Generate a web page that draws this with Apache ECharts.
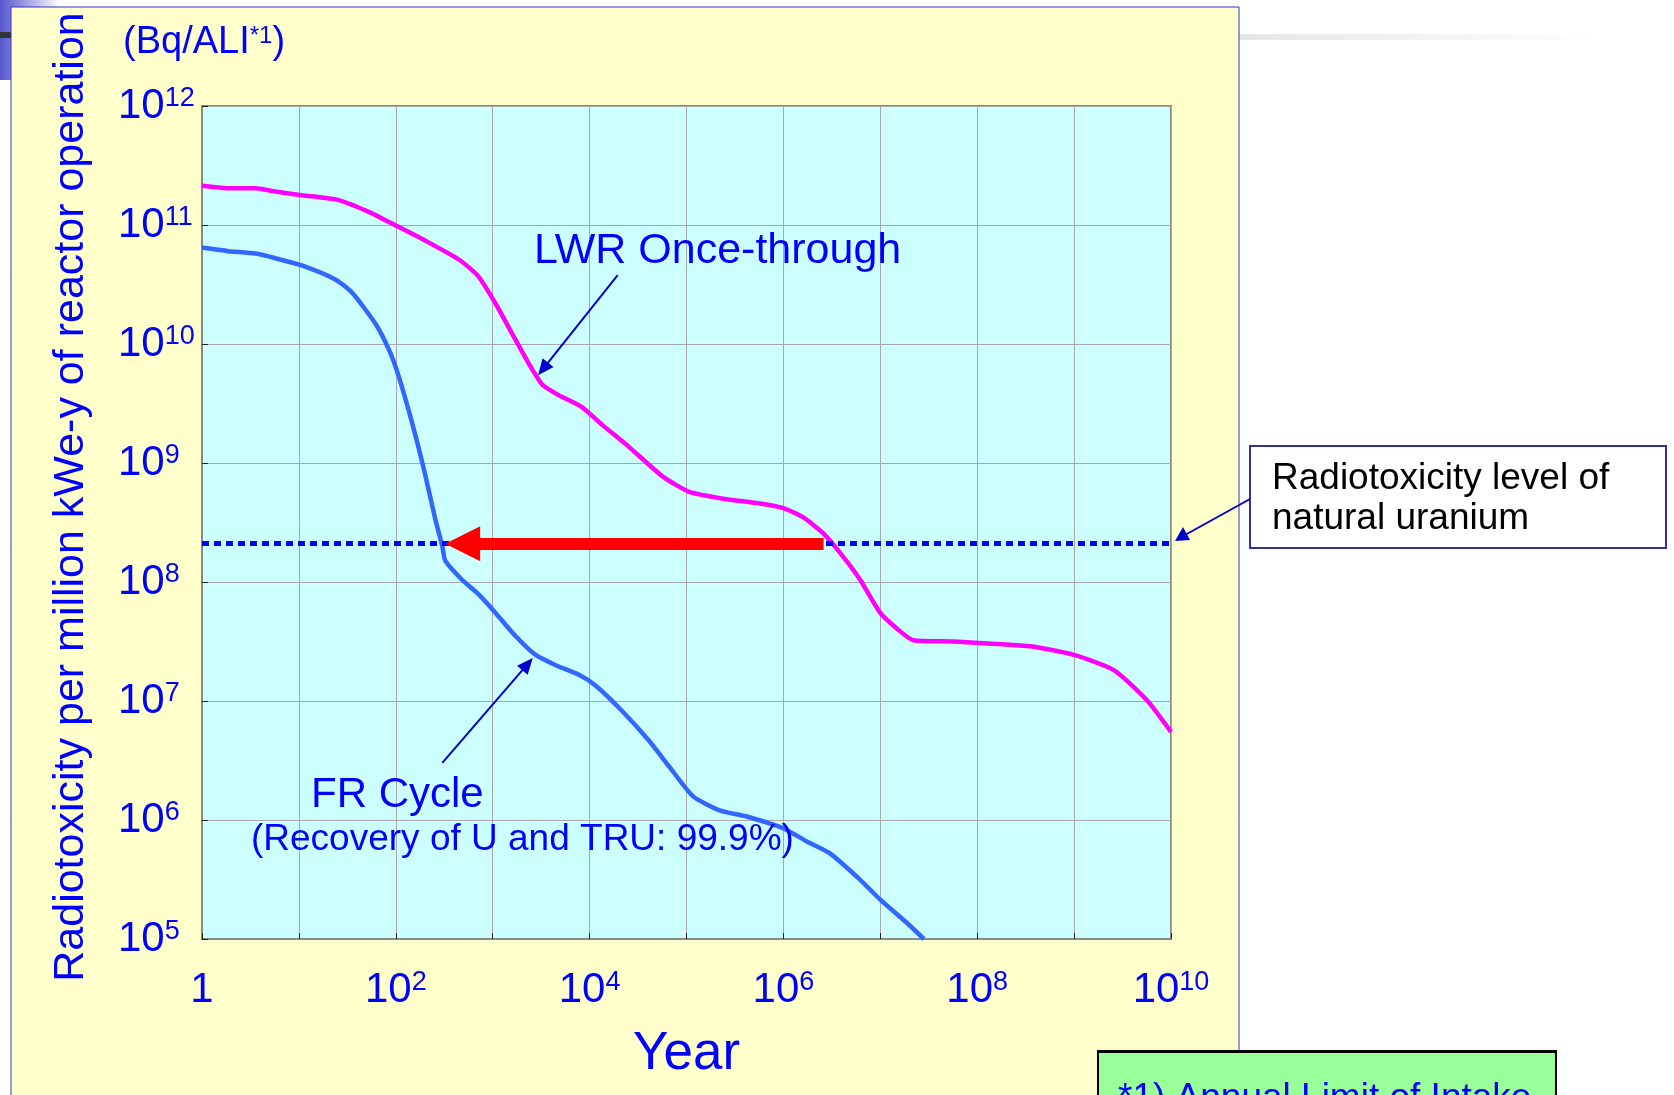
<!DOCTYPE html>
<html>
<head>
<meta charset="utf-8">
<title>Radiotoxicity of spent fuel</title>
<script src="https://cdn.jsdelivr.net/npm/echarts@6/dist/echarts.min.js"></script>
<style>
    html, body { margin: 0; padding: 0; background: #fff; }
    #chart { width: 1674px; height: 1095px; }
</style>
</head>
<body>
<div id="chart"></div>
<script>
// LWR once-through (years after discharge, Bq/ALI)
const lwrYears = [1, 1.86, 3.55, 5.75, 10.7, 25.7, 52.5, 97.7, 200, 447, 708, 1070, 1580, 2340, 3240,
    4790, 8320, 1.35e4, 2.51e4, 5.62e4, 1.05e5, 2.4e5, 5.75e5, 1e6, 1.62e6, 2.57e6, 4.17e6, 6.17e6,
    1e7, 1.48e7, 2.19e7, 5.75e7, 1.58e8, 3.55e8, 9.77e8, 2.57e9, 5.62e9, 1e10];
const lwrValues = [2.14e11, 2.04e11, 2.04e11, 1.91e11, 1.78e11, 1.62e11, 1.29e11, 1.0e11, 7.41e10, 5.13e10,
    3.72e10, 2.19e10, 1.23e10, 6.92e9, 4.57e9, 3.72e9, 2.95e9, 2.09e9, 1.38e9, 7.76e8, 5.75e8, 5.01e8,
    4.57e8, 4.17e8, 3.47e8, 2.57e8, 1.62e8, 1.05e8, 5.5e7, 4.07e7, 3.24e7, 3.16e7, 3.02e7, 2.88e7,
    2.45e7, 1.82e7, 1.02e7, 5.5e6];

// FR cycle, recovery of U and TRU 99.9%
const frYears = [1, 1.86, 3.55, 5.75, 10.7, 24, 35.5, 61.7, 85.1, 107, 148, 200, 257, 302, 324, 479, 708,
    1070, 1700, 2750, 4470, 7760, 1.15e4, 2.14e4, 4.07e4, 6.61e4, 1.17e5, 2.24e5, 4.17e5, 1e6, 1.74e6,
    3.02e6, 6.17e6, 1e7, 1.91e7, 2.82e7];
const frValues = [6.46e10, 6.03e10, 5.75e10, 5.25e10, 4.57e10, 3.47e10, 2.69e10, 1.48e10, 8.91e9, 5.37e9,
    2.14e9, 8.13e8, 3.31e8, 2.0e8, 1.51e8, 1.05e8, 7.94e7, 5.5e7, 3.55e7, 2.45e7, 2.0e7, 1.66e7, 1.35e7,
    8.32e6, 4.68e6, 2.82e6, 1.58e6, 1.2e6, 1.07e6, 8.51e5, 6.61e5, 5.25e5, 3.16e5, 2.14e5, 1.35e5, 1e5];

// radiotoxicity of natural uranium and the reduction arrow (LWR crossing -> FR crossing)
const natUraniumLevel = 2.1e8;
const reductionFromYear = 2.6e6;
const reductionHeadYear = 490;

// pointers from the curve labels [year, value] start -> head
const lwrPointer = [[1.95e4, 3.8e10], [3.31e3, 6.17e9]];
const frPointer = [[302, 3.02e6], [2290, 2.04e7]];

// tick labels (decade exponents)
const xLabelDecades = [0, 2, 4, 6, 8, 10];
const yLabelDecades = [5, 6, 7, 8, 9, 10, 11, 12];

const FONT = "'Liberation Sans', Arial, sans-serif";
const BLUE = '#0000FF';

let chartDom = document.getElementById('chart'),
    myChart = echarts.init(chartDom),
    option;

function decadeLabel(v, shown) {
    let e = Math.round(Math.log10(v));
    if (shown.indexOf(e) < 0) return '';
    if (e === 0) return '{b|1}';
    return '{b|10}{s|' + e + '}';
}

const richDigits = {
    b: { fontSize: 42, lineHeight: 42, color: BLUE, fontFamily: FONT },
    s: { fontSize: 27, lineHeight: 34, verticalAlign: 'top', color: BLUE, fontFamily: FONT }
};

option = {
    animation: false,
    backgroundColor: '#ffffff',
    grid: {
        left: 202, top: 106, width: 969, height: 833,
        show: true,
        backgroundColor: '#CCFFFF',
        borderColor: '#888888',
        borderWidth: 2
    },
    xAxis: {
        type: 'log',
        logBase: 10,
        min: 1,
        max: 1e10,
        interval: 1,
        name: 'Year',
        nameLocation: 'middle',
        nameGap: 89,
        nameTextStyle: { fontSize: 53, color: BLUE, fontFamily: FONT },
        axisLine: { lineStyle: { color: '#888888', width: 2 } },
        axisTick: { inside: true, length: 6, lineStyle: { color: '#222' } },
        splitLine: { show: true, lineStyle: { color: '#A8A8A8', width: 1 } },
        axisLabel: {
            margin: 30,
            fontSize: 42,
            formatter: v => decadeLabel(v, xLabelDecades),
            rich: richDigits
        }
    },
    yAxis: {
        type: 'log',
        logBase: 10,
        min: 1e5,
        max: 1e12,
        interval: 1,
        axisLine: { show: true, lineStyle: { color: '#888888', width: 2 } },
        axisTick: { show: true, inside: true, length: 6, lineStyle: { color: '#222' } },
        splitLine: { show: true, lineStyle: { color: '#A8A8A8', width: 1 } },
        axisLabel: {
            margin: 84,
            align: 'left',
            fontSize: 42,
            formatter: v => decadeLabel(v, yLabelDecades),
            rich: richDigits
        }
    },
    series: [
        {
            name: 'FR Cycle',
            type: 'line',
            showSymbol: false,
            smooth: 0.2,
            data: frYears.map((x, i) => [x, frValues[i]]),
            lineStyle: { color: '#3366FF', width: 4.5 },
            z: 3,
            markLine: {
                silent: true,
                symbol: 'none',
                label: { show: false },
                lineStyle: { color: BLUE, width: 5, type: [7, 5] },
                data: [{ yAxis: natUraniumLevel }]
            }
        },
        {
            name: 'LWR Once-through',
            type: 'line',
            showSymbol: false,
            smooth: 0.2,
            data: lwrYears.map((x, i) => [x, lwrValues[i]]),
            lineStyle: { color: '#FF00FF', width: 4.5 },
            z: 3
        },
        {
            name: 'annotations',
            type: 'line',
            data: [],
            z: 4,
            markLine: {
                silent: true,
                label: { show: false },
                symbol: ['none', 'triangle'],
                data: [
                    [
                        { coord: [reductionFromYear, natUraniumLevel], lineStyle: { color: '#FF0000', width: 12, type: 'solid' }, symbolSize: 1 },
                        { coord: [reductionHeadYear, natUraniumLevel], symbolSize: [35, 35], itemStyle: { color: '#FF0000' } }
                    ],
                    [
                        { coord: lwrPointer[0], lineStyle: { color: '#0000CC', width: 2, type: 'solid' } },
                        { coord: lwrPointer[1], symbolSize: [14, 16], itemStyle: { color: '#0000CC' } }
                    ],
                    [
                        { coord: frPointer[0], lineStyle: { color: '#0000CC', width: 2, type: 'solid' } },
                        { coord: frPointer[1], symbolSize: [14, 16], itemStyle: { color: '#0000CC' } }
                    ]
                ]
            }
        }
    ],
    graphic: [
        // slide decoration behind the panel
        { type: 'rect', z: -8, shape: { x: 0, y: 0, width: 60, height: 80 },
          style: { fill: new echarts.graphic.LinearGradient(0, 0, 1, 0, [
              { offset: 0, color: '#5555CC' }, { offset: 1, color: '#ffffff' }]) } },
        { type: 'rect', z: -7, shape: { x: 0, y: 32, width: 12, height: 6 }, style: { fill: '#333333' } },
        { type: 'rect', z: -7, shape: { x: 1239, y: 34, width: 360, height: 6 },
          style: { fill: new echarts.graphic.LinearGradient(0, 0, 1, 0, [
              { offset: 0, color: '#E6E6E6' }, { offset: 1, color: '#ffffff' }]) } },
        // yellow panel
        { type: 'rect', z: -5, shape: { x: 11, y: 7, width: 1228, height: 1120 },
          style: { fill: '#FFFFCC', stroke: '#3333CC', lineWidth: 1 } },
        // axis title and unit
        { type: 'text', z: 10, x: 71, y: 497, rotation: Math.PI / 2,
          style: { text: 'Radiotoxicity per million kWe-y of reactor operation', fill: BLUE,
                   font: '43px ' + FONT, align: 'center', verticalAlign: 'middle' } },
        { type: 'text', z: 10, x: 123, y: 43,
          style: { text: '{b|(Bq/ALI}{s|*1}{b|)}', align: 'left', verticalAlign: 'middle',
                   rich: {
                       b: { fontSize: 38, lineHeight: 38, fill: BLUE, fontFamily: FONT },
                       s: { fontSize: 24, lineHeight: 26, verticalAlign: 'top', fill: BLUE, fontFamily: FONT }
                   } } },
        // curve labels
        { type: 'text', z: 10, x: 534, y: 251,
          style: { text: 'LWR Once-through', fill: BLUE, font: '43px ' + FONT, verticalAlign: 'middle' } },
        { type: 'text', z: 10, x: 311, y: 795,
          style: { text: 'FR Cycle', fill: BLUE, font: '42px ' + FONT, verticalAlign: 'middle' } },
        { type: 'text', z: 10, x: 251, y: 840,
          style: { text: '(Recovery of U and TRU: 99.9%)', fill: BLUE, font: '37px ' + FONT, verticalAlign: 'middle' } },
        // natural uranium call-out
        { type: 'rect', z: 10, shape: { x: 1250, y: 446, width: 416, height: 102 },
          style: { fill: '#ffffff', stroke: '#333399', lineWidth: 2 } },
        { type: 'text', z: 11, x: 1272, y: 479,
          style: { text: 'Radiotoxicity level of', fill: '#000000', font: '37px ' + FONT, verticalAlign: 'middle' } },
        { type: 'text', z: 11, x: 1272, y: 519,
          style: { text: 'natural uranium', fill: '#000000', font: '37px ' + FONT, verticalAlign: 'middle' } },
        { type: 'line', z: 11, shape: { x1: 1250, y1: 499, x2: 1185, y2: 535 },
          style: { stroke: '#0000CC', lineWidth: 2 } },
        { type: 'polygon', z: 11, shape: { points: [[1175, 541], [1183, 527], [1190, 540]] },
          style: { fill: '#0000CC' } },
        // footnote box
        { type: 'rect', z: 10, shape: { x: 1098, y: 1051, width: 458, height: 70 },
          style: { fill: '#99FF99', stroke: '#000000', lineWidth: 2 } },
        { type: 'rect', z: 11, shape: { x: 1097, y: 1050, width: 460, height: 3 }, style: { fill: '#000000' } },
        { type: 'text', z: 11, x: 1118, y: 1099,
          style: { text: '*1) Annual Limit of Intake', fill: BLUE, font: '37px ' + FONT, verticalAlign: 'middle' } }
    ]
};

option && myChart.setOption(option);
</script>
</body>
</html>
